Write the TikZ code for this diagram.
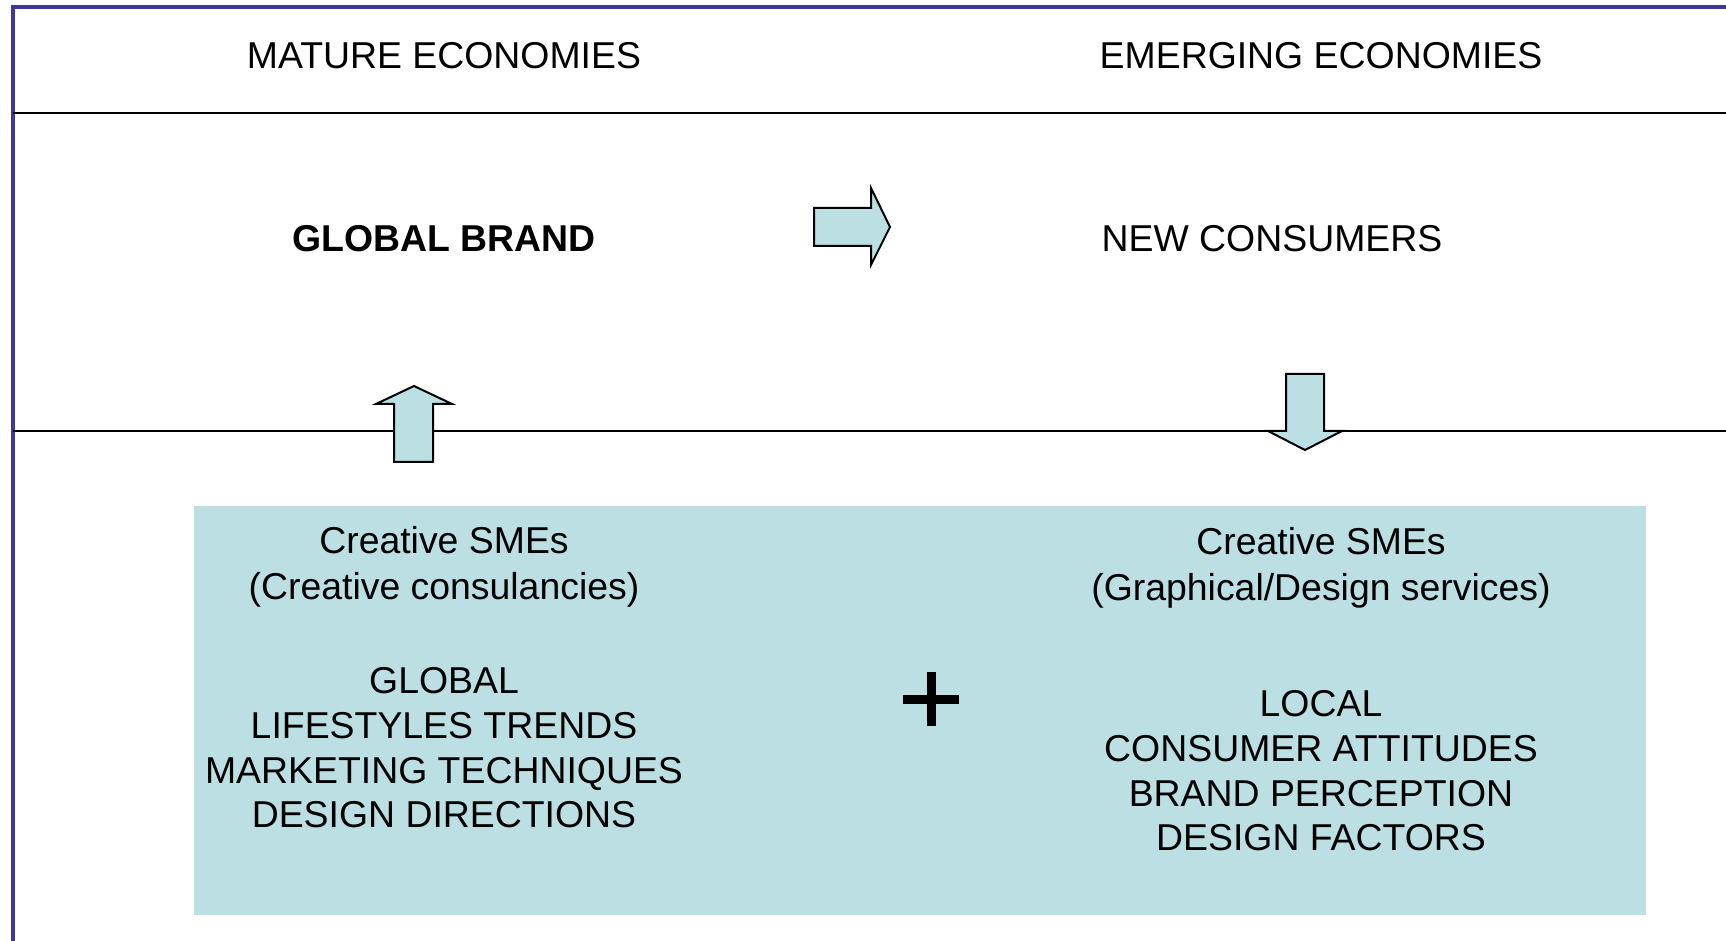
\documentclass[tikz,border=0pt]{standalone}
\usepackage{fontspec}
\setmainfont{Liberation Sans}
\begin{document}
\begin{tikzpicture}[x=0.5pt,y=-0.5pt,
  lbl/.style={font=\fontsize{18.7pt}{22.3pt}\selectfont, align=center, inner sep=0pt},
  arrowshape/.style={fill=arrowfill, draw=black, line width=1pt, line join=miter},
  divider/.style={draw=black, line width=1.1pt},
  frameline/.style={draw=framecol, line width=1.6pt}]
\definecolor{boxfill}{HTML}{BBDFE3}
\definecolor{arrowfill}{HTML}{BBDFE3}
\definecolor{framecol}{HTML}{3A3A9C}
\useasboundingbox (0,0) rectangle (1726,941);
% light blue panel
\fill[boxfill] (194,506) rectangle (1646,915);
% frame and dividers
\draw[frameline] (1726,7) -- (13,7) -- (13,941);
\draw[divider] (13,113) -- (1726,113);
\draw[divider] (13,431) -- (1726,431);
% headings
\node[lbl] (mature) at (444,56) {MATURE ECONOMIES};
\node[lbl] (emerging) at (1321,56) {EMERGING ECONOMIES};
\node[lbl, font=\fontsize{18.7pt}{22.3pt}\selectfont\bfseries] (brand) at (444,239) {GLOBAL BRAND};
\node[lbl] (consumers) at (1272,239) {NEW CONSUMERS};
% arrows
\draw[arrowshape] (814,208) -- (871,208) -- (871,188) -- (890,227) -- (871,265) -- (871,246) -- (814,246) -- cycle;
\draw[arrowshape] (394,462) -- (394,404) -- (376,404) -- (414,386) -- (452,404) -- (433,404) -- (433,462) -- cycle;
\draw[arrowshape] (1286,374) -- (1324,374) -- (1324,431) -- (1342,431) -- (1305,450) -- (1268,431) -- (1286,431) -- cycle;
% panel text
\node[lbl, font=\fontsize{18.7pt}{22.8pt}\selectfont] (smeL) at (444,567) {Creative SMEs\\(Creative consulancies)};
\node[lbl] (listL) at (444,748) {GLOBAL\\LIFESTYLES TRENDS\\MARKETING TECHNIQUES\\DESIGN DIRECTIONS};
\node[lbl, font=\fontsize{18.7pt}{22.8pt}\selectfont] (smeR) at (1321,568) {Creative SMEs\\(Graphical/Design services)};
\node[lbl] (listR) at (1321,771) {LOCAL\\CONSUMER ATTITUDES\\BRAND PERCEPTION\\DESIGN FACTORS};
% plus sign
\fill[black] (903,695) rectangle (959,704);
\fill[black] (927,672) rectangle (936,726);
\end{tikzpicture}
\end{document}
